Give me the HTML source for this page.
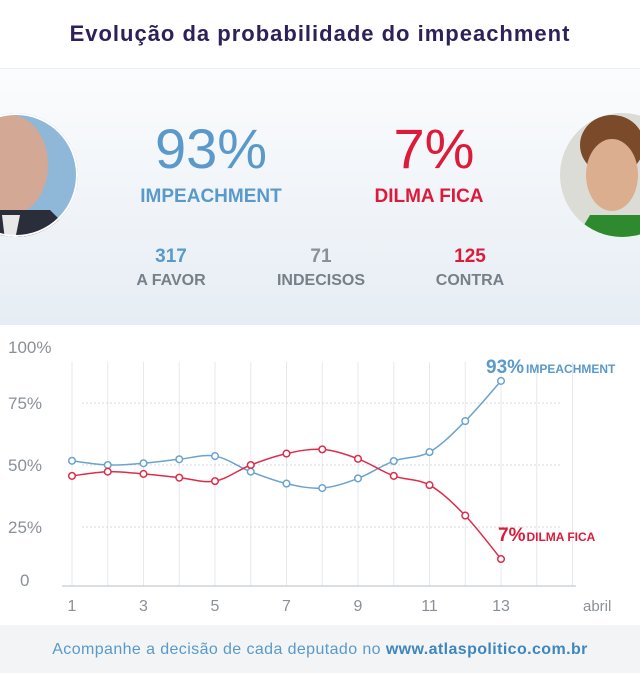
<!DOCTYPE html>
<html><head><meta charset="utf-8"><style>
*{margin:0;padding:0;box-sizing:border-box}
body{width:640px;height:673px;background:#fff;font-family:"Liberation Sans",sans-serif;position:relative;overflow:hidden}
.abs{position:absolute}
#title{left:0;width:640px;top:21px;text-align:center;font-size:22px;font-weight:bold;color:#2e2058;letter-spacing:1px}
#hero{left:0;top:68px;width:640px;height:257px;background:linear-gradient(#fbfcfd,#e6edf4);border-top:1px solid #eceff2}
.big{font-size:56px;text-align:center;width:200px;top:119px;line-height:60px}
.lbl{font-size:19px;font-weight:bold;text-align:center;width:220px;top:186px}
.num{font-size:19px;font-weight:bold;text-align:center;width:140px;top:246px}
.sub{font-size:16px;font-weight:bold;text-align:center;width:160px;top:272px;color:#777f88}
#footer{left:0;top:625px;width:640px;height:48px;background:#f2f4f6;font-size:16px;color:#5a9acb;text-align:center;line-height:50px;letter-spacing:0.4px}
</style></head><body>
<div id="title" class="abs">Evolução da probabilidade do impeachment</div>
<div id="hero" class="abs"></div>
<svg class="abs" style="left:0;top:0" width="640" height="330">
<defs><clipPath id="cl"><circle cx="16" cy="175" r="62"/></clipPath><clipPath id="cr"><circle cx="622" cy="175" r="62"/></clipPath></defs>
<g clip-path="url(#cl)"><rect x="-50" y="110" width="130" height="130" fill="#8fb8d8"/><ellipse cx="10" cy="165" rx="38" ry="50" fill="#d3a894"/><path d="M-40 240 L-20 210 L50 210 L80 240Z" fill="#2a2e3a"/><path d="M2 215 L20 215 L15 240 L5 240Z" fill="#e8e8e8"/></g>
<g clip-path="url(#cl)"><circle cx="16" cy="175" r="61" fill="none" stroke="#fff" stroke-width="2"/></g>
<g clip-path="url(#cr)"><rect x="555" y="110" width="130" height="130" fill="#dcdcd6"/><ellipse cx="612" cy="145" rx="32" ry="30" fill="#7a4a2a"/><ellipse cx="612" cy="175" rx="26" ry="36" fill="#dcae90"/><path d="M575 240 L590 215 L640 215 L660 240Z" fill="#2f8a2f"/></g>
</svg>
<div class="abs big" style="left:111px;color:#5a9acb">93%</div>
<div class="abs lbl" style="left:101px;color:#5a9acb">IMPEACHMENT</div>
<div class="abs big" style="left:334px;color:#dd1a3a">7%</div>
<div class="abs lbl" style="left:319px;color:#dd1a3a">DILMA FICA</div>
<div class="abs num" style="left:101px;color:#5a9acb">317</div>
<div class="abs sub" style="left:91px">A FAVOR</div>
<div class="abs num" style="left:251px;color:#8a9098">71</div>
<div class="abs sub" style="left:241px">INDECISOS</div>
<div class="abs num" style="left:400px;color:#dd1a3a">125</div>
<div class="abs sub" style="left:390px">CONTRA</div>
<svg id="chart" class="abs" style="left:0;top:325px" width="640" height="300"></svg>
<div id="footer" class="abs">Acompanhe a decisão de cada deputado no <b style="color:#3f86bd">www.atlaspolitico.com.br</b></div>
<script>
const days=[1,2,3,4,5,6,7,8,9,10,11,12,13];
const impeachment=[51.7,50,50.7,52.3,53.6,47.3,42.5,40.7,44.6,51.6,55.2,67.7,83.9];
const dilma=[45.6,47.3,46.4,44.9,43.5,50,54.6,56.3,52.5,45.6,41.9,29.6,12.1];
const yTicks=[0,25,50,75,100];
const yTickLabels=["0","25%","50%","75%","100%"];
const xTicks=[1,3,5,7,9,11,13];
const OY=-325;
const X=d=>72+(d-1)*35.75;
const Y=v=>589+OY-v*2.48;
const svg=document.getElementById('chart');
const NS='http://www.w3.org/2000/svg';
function mk(t,a){const e=document.createElementNS(NS,t);for(const k in a)e.setAttribute(k,a[k]);svg.appendChild(e);return e;}
for(let d=1;d<=15;d++){const l=mk('line',{x1:X(d),x2:X(d),y1:362+OY,y2:586+OY,stroke:'#e6e8eb','stroke-width':1});

}
yTicks.forEach((v,i)=>{
 if(v>0&&v<100){const g=mk('line',{x1:82,x2:560,y1:Y(v),y2:Y(v),stroke:'#d6d9dd','stroke-dasharray':'2,2'});
 
 }
 const t=mk('text',{x:v==0?20:8,y:Y(v)+(v==100?6:0)+(v==0?-3:6),'font-size':17,fill:'#8a9098','font-family':'Liberation Sans, sans-serif'});
 t.textContent=yTickLabels[i];
 
 
});
const ax=mk('line',{x1:62,x2:576,y1:586+OY,y2:586+OY,stroke:'#cfd3d8','stroke-width':1.5});


xTicks.forEach(d=>{const t=mk('text',{x:X(d),y:611+OY,'text-anchor':'middle','font-size':16,fill:'#8a9098','font-family':'Liberation Sans, sans-serif'});t.textContent=d;

});
const ab=mk('text',{x:583,y:611+OY,'font-size':15,fill:'#8a9098','font-family':'Liberation Sans, sans-serif'});ab.textContent='abril';


function path(vals){const p=vals.map((v,i)=>[X(days[i]),Y(v)]);let d='M'+p[0];
 for(let i=0;i<p.length-1;i++){const a=p[Math.max(i-1,0)],b=p[i],c=p[i+1],e=p[Math.min(i+2,p.length-1)];
 d+=` C${b[0]+(c[0]-a[0])/6},${b[1]+(c[1]-a[1])/6} ${c[0]-(e[0]-b[0])/6},${c[1]-(e[1]-b[1])/6} ${c[0]},${c[1]}`;}return d;}
function series(vals,col,name){
 const l=mk('path',{d:path(vals),fill:'none',stroke:col,'stroke-width':1.5});
 
 
 vals.forEach((v,i)=>{const c=mk('circle',{cx:X(days[i]),cy:Y(v),r:3.3,fill:'#fff',stroke:col,'stroke-width':1.5});
 
 });
}
series(impeachment,'#6aa3cf','impeachment');
series(dilma,'#dd2d4a','dilma');
const l1=mk('text',{x:486,y:373+OY,'font-family':'Liberation Sans, sans-serif'});
l1.innerHTML='<tspan font-size="19" font-weight="bold" fill="#5a9acb">93%</tspan><tspan font-size="12" font-weight="bold" fill="#5a9acb" dx="2">IMPEACHMENT</tspan>';


const l2=mk('text',{x:498,y:541+OY,'font-family':'Liberation Sans, sans-serif'});
l2.innerHTML='<tspan font-size="19" font-weight="bold" fill="#dd1a3a">7%</tspan><tspan font-size="12" font-weight="bold" fill="#dd1a3a" dx="1">DILMA FICA</tspan>';


</script>
</body></html>
